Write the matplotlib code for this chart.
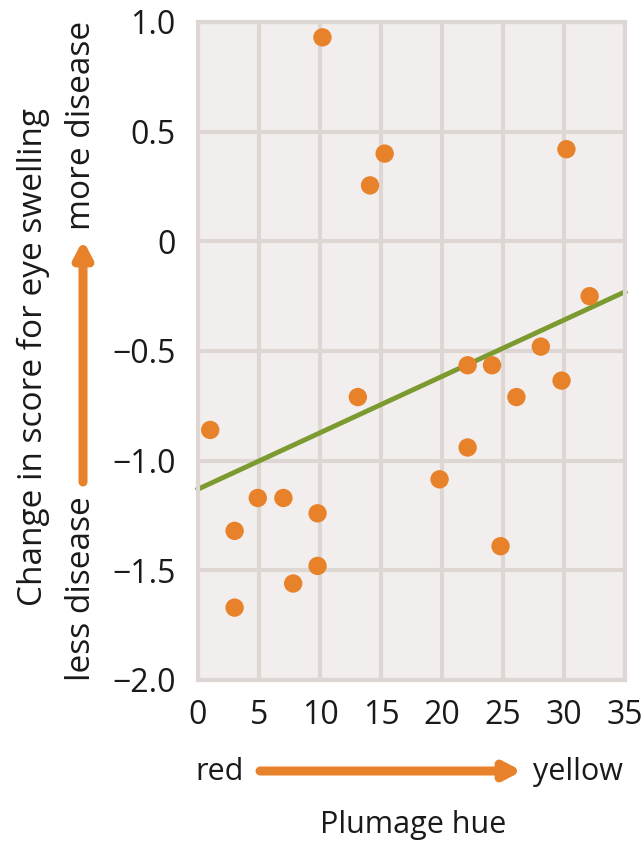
import numpy as np
import matplotlib.pyplot as plt

plt.rcParams['font.family'] = ['Open Sans', 'DejaVu Sans']

# plumage hue vs change in eye swelling score
hue = [1.0, 3.0, 3.0, 4.9, 7.0, 9.8, 9.8, 7.8, 10.2, 13.1, 14.1, 15.3,
       19.8, 22.1, 22.1, 24.1, 24.8, 26.1, 28.1, 29.8, 30.2, 32.1]
swelling = [-0.86, -1.32, -1.67, -1.17, -1.17, -1.24, -1.48, -1.56, 0.93, -0.71, 0.255, 0.40,
            -1.085, -0.565, -0.94, -0.565, -1.39, -0.71, -0.48, -0.635, 0.42, -0.25]
fit_x = [0, 35]
fit_y = [-1.13, -0.23]

xticks = [0, 5, 10, 15, 20, 25, 30, 35]
yticks = [-2.0, -1.5, -1.0, -0.5, 0, 0.5, 1.0]
ylabels = ['\u22122.0', '\u22121.5', '\u22121.0', '\u22120.5', '0', '0.5', '1.0']

orange = '#e8822a'
green = '#7b9a2f'
gridc = '#ddd6d3'
txt = '#1a1a1a'

fig = plt.figure(figsize=(6.44, 8.43), dpi=100)
ax = fig.add_axes([198/644, 1-680/843, 427/644, 658/843])
ax.set_facecolor('#f2eeed')

ax.set_xlim(0, 35)
ax.set_ylim(-2.0, 1.0)
ax.set_xticks(xticks)
ax.set_yticks(yticks)
ax.set_yticklabels(ylabels)
ax.grid(True, color=gridc, lw=3)
ax.set_axisbelow(True)
for s in ax.spines.values():
    s.set_color(gridc)
    s.set_linewidth(3)
ax.tick_params(length=0, labelsize=23, colors=txt)
ax.tick_params(axis='y', pad=16)
ax.tick_params(axis='x', pad=14)

ax.plot(fit_x, fit_y, color=green, lw=3.5, zorder=2, clip_on=False)
ax.scatter(hue, swelling, s=175, color=orange, edgecolors='none', zorder=3, clip_on=False)

# axis titles and direction arrows
fig.text(33/644, 1-357/843, 'Change in score for eye swelling', rotation=90,
         ha='center', va='center', fontsize=24, color=txt)
fig.text(82/644, 1-125/843, 'more disease', rotation=90,
         ha='center', va='center', fontsize=24, color=txt)
fig.text(82/644, 1-589/843, 'less disease', rotation=90,
         ha='center', va='center', fontsize=24, color=txt)
ax.annotate('', xy=(83, 843-240), xytext=(83, 843-482), xycoords='figure pixels',
            textcoords='figure pixels',
            arrowprops=dict(arrowstyle='-|>,head_length=0.95,head_width=0.5',
                            lw=6.5, color=orange, shrinkA=0, shrinkB=0))

fig.text(220/644, 1-772/843, 'red', ha='center', va='center', fontsize=22, color=txt)
fig.text(578/644, 1-772/843, 'yellow', ha='center', va='center', fontsize=22, color=txt)
ax.annotate('', xy=(522, 843-771), xytext=(260, 843-771), xycoords='figure pixels',
            textcoords='figure pixels',
            arrowprops=dict(arrowstyle='-|>,head_length=0.95,head_width=0.5',
                            lw=6.5, color=orange, shrinkA=0, shrinkB=0))
fig.text(413/644, 1-825/843, 'Plumage hue', ha='center', va='center', fontsize=22, color=txt)

fig.savefig('out.png', dpi=100)
